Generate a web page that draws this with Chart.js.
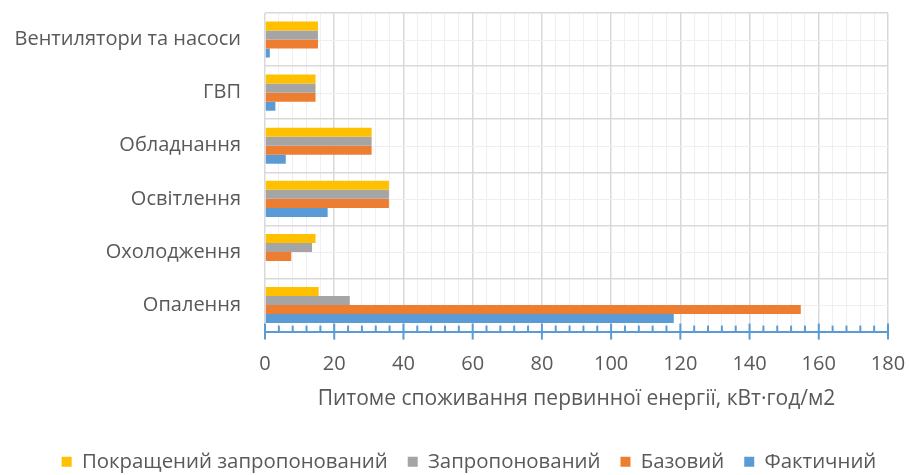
<!DOCTYPE html>
<html>
<head>
<meta charset="utf-8">
<script src="https://cdn.jsdelivr.net/npm/chart.js@4/dist/chart.umd.min.js"></script>
<style>
  html, body { margin: 0; padding: 0; background: #fff; }
  #wrap { width: 910px; height: 475px; }
</style>
</head>
<body>
<div id="wrap"><canvas id="grafico"></canvas></div>
<script>
const categorias = ["Вентилятори та насоси", "ГВП", "Обладнання", "Освітлення", "Охолодження", "Опалення"];
const pokrashchenyi = [15.3, 14.6, 30.8, 35.8, 14.6, 15.5];
const zaproponovanyi = [15.3, 14.6, 30.8, 35.8, 13.6, 24.5];
const bazovyi = [15.3, 14.6, 30.8, 35.8, 7.6, 154.8];
const faktychnyi = [1.4, 3.0, 6.0, 18.1, 0, 118.1];
const xTicks = [0, 20, 40, 60, 80, 100, 120, 140, 160, 180];

const FONT = "Open Sans";
const GREY_TEXT = "#595959";
const AXIS_BLUE = "#5B9BD5";

// grade menor no centro das categorias + marcas do eixo x
const extras = {
  id: "extras",
  afterLayout(chart) {
    // legenda um pouco mais baixa e à direita, como no original
    const l = chart.legend;
    l.top += 7; l.bottom += 7;
    l.left += 25; l.right += 25;
  },
  beforeDatasetsDraw(chart) {
    const { ctx, chartArea, scales } = chart;
    ctx.save();
    ctx.strokeStyle = "#EFEFEF";
    ctx.lineWidth = 1;
    categorias.forEach((c, i) => {
      const y = Math.round(scales.y.getPixelForValue(i)) + 0.5;
      ctx.beginPath();
      ctx.moveTo(chartArea.left, y);
      ctx.lineTo(chartArea.right, y);
      ctx.stroke();
    });
    ctx.restore();
  },
  afterDraw(chart) {
    const { ctx, chartArea, scales } = chart;
    const b = chartArea.bottom;
    ctx.save();
    ctx.strokeStyle = AXIS_BLUE;
    ctx.lineWidth = 2;
    for (let v = 0; v <= 180; v += 4) {
      const x = scales.x.getPixelForValue(v);
      ctx.beginPath();
      if (v % 20 === 0) {
        ctx.moveTo(x, b - 8);
        ctx.lineTo(x, b + 8);
      } else {
        ctx.moveTo(x, b - 6);
        ctx.lineTo(x, b);
      }
      ctx.stroke();
    }
    ctx.restore();
  }
};

new Chart(document.getElementById("grafico"), {
  type: "bar",
  data: {
    labels: categorias,
    datasets: [
      { label: "Покращений запропонований", data: pokrashchenyi, backgroundColor: "#FFC000" },
      { label: "Запропонований", data: zaproponovanyi, backgroundColor: "#A5A5A5" },
      { label: "Базовий", data: bazovyi, backgroundColor: "#ED7D31" },
      { label: "Фактичний", data: faktychnyi, backgroundColor: "#5B9BD5" }
    ]
  },
  plugins: [extras],
  options: {
    indexAxis: "y",
    responsive: true,
    maintainAspectRatio: false,
    animation: false,
    devicePixelRatio: 1,
    categoryPercentage: 0.68,
    barPercentage: 1.0,
    layout: { padding: { top: 13, right: 22, left: 0, bottom: 0 } },
    plugins: {
      tooltip: { enabled: false },
      legend: {
        position: "bottom",
        labels: {
          color: GREY_TEXT,
          font: { family: FONT, size: 20.4 },
          boxWidth: 10,
          boxHeight: 10,
          padding: 20
        }
      }
    },
    scales: {
      x: {
        min: 0,
        max: 180,
        afterBuildTicks(scale) {
          const t = [];
          for (let v = 0; v <= 180; v += 4) t.push({ value: v });
          scale.ticks = t;
        },
        afterFit(scale) { scale.height = 93; },
        ticks: {
          autoSkip: false,
          maxRotation: 0,
          color: GREY_TEXT,
          padding: 0,
          font: { family: FONT, size: 20 },
          callback: (v) => (xTicks.includes(v) ? String(v) : "")
        },
        grid: {
          drawTicks: true,
          tickLength: 21,
          tickColor: "rgba(0,0,0,0)",
          color: (c) => (c.tick && c.tick.value % 20 === 0 ? "#D9D9D9" : "#EFEFEF"),
          lineWidth: (c) => (c.tick && c.tick.value % 20 === 0 ? 1.5 : 1)
        },
        border: { display: true, color: AXIS_BLUE, width: 2 },
        title: {
          display: true,
          text: "Питоме споживання первинної енергії, кВт·год/м2",
          color: GREY_TEXT,
          font: { family: FONT, size: 21 },
          padding: { top: 8, bottom: 13 }
        }
      },
      y: {
        afterFit(scale) { scale.width = 265; },
        ticks: {
          color: GREY_TEXT,
          padding: 0,
          font: { family: FONT, size: 20 }
        },
        grid: {
          drawTicks: true,
          tickLength: 24,
          tickColor: "rgba(0,0,0,0)",
          color: "#D9D9D9",
          lineWidth: 1.5,
          offset: true
        },
        border: { display: false }
      }
    }
  }
});
</script>
</body>
</html>
